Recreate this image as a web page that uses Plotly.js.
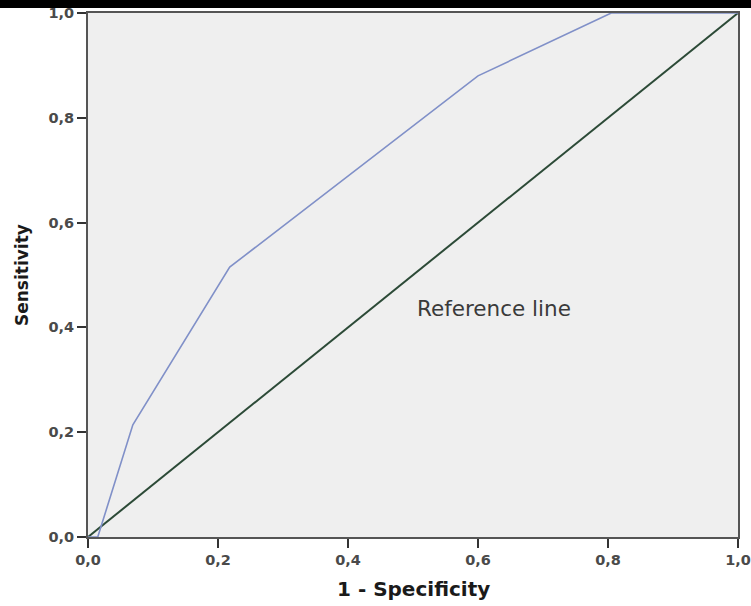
<!DOCTYPE html>
<html><head><meta charset="utf-8">
<script src="https://cdn.plot.ly/plotly-3.0.1.min.js"></script>
<style>body{margin:0;background:#fff}#bar{position:absolute;left:0;top:0;width:751px;height:8px;background:#000;z-index:10}</style>
</head><body>
<div id="bar"></div>
<div id="chart" style="width:751px;height:606px"></div>
<script>
const rocX = [0, 0.015, 0.069, 0.218, 0.600, 0.805, 1.0];
const rocY = [0, 0.0, 0.214, 0.515, 0.880, 1.0, 1.0];
const refX = [0, 1];
const refY = [0, 1];
const tickVals = [0, 0.2, 0.4, 0.6, 0.8, 1.0];
const tickText = ["0,0", "0,2", "0,4", "0,6", "0,8", "1,0"];

const FONT = 'DejaVu Sans, Verdana, sans-serif';
const traces = [
  {x: refX, y: refY, mode: 'lines', line: {color: '#2c4a37', width: 2}, hoverinfo: 'skip'},
  {x: rocX, y: rocY, mode: 'lines', line: {color: '#8090c8', width: 1.6}, hoverinfo: 'skip'}
];
const axisCommon = {
  range: [0, 1], tickvals: tickVals, ticktext: tickText, ticks: 'outside', ticklen: 9, tickwidth: 2,
  tickcolor: '#333', showline: true, linecolor: '#555', linewidth: 2, mirror: true, showgrid: false,
  zeroline: false, tickfont: {family: FONT, size: 14.5, color: '#4a4a4a', weight: 'bold'}
};
const layout = {
  width: 751, height: 606, showlegend: false,
  margin: {l: 88, r: 13, t: 13, b: 69},
  paper_bgcolor: '#fff', plot_bgcolor: '#efefef',
  xaxis: Object.assign({}, axisCommon),
  yaxis: Object.assign({}, axisCommon),
  annotations: [
    {x: 0.6246, y: 0.437, xref: 'x', yref: 'y', text: 'Reference line', showarrow: false,
     font: {family: FONT, size: 21.5, color: '#3a3a3a'}},
    {x: 0.5015, y: -0.0992, xref: 'paper', yref: 'paper', xanchor: 'center', yanchor: 'middle',
     text: '1 - Specificity', showarrow: false, font: {family: FONT, size: 20, color: '#1a1a1a', weight: 'bold'}},
    {x: -0.1015, y: 0.5, xref: 'paper', yref: 'paper', xanchor: 'center', yanchor: 'middle', textangle: -90,
     text: 'Sensitivity', showarrow: false, font: {family: FONT, size: 17, color: '#1a1a1a', weight: 'bold'}}
  ]
};
Plotly.newPlot('chart', traces, layout, {displayModeBar: false, staticPlot: true});
</script>
</body></html>
